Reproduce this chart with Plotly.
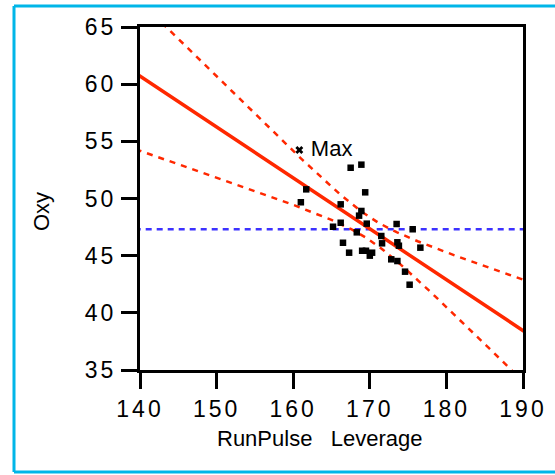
import numpy as np
import plotly.graph_objects as go

# Leverage data
run_pulse_lev = [167.5, 168.9, 161.7, 169.4, 161.0, 166.2, 168.9, 168.6, 165.2, 166.2,
                 169.6, 173.5, 175.6, 168.3, 166.5, 171.5, 171.6, 173.6, 173.8, 176.6,
                 167.3, 169.0, 169.5, 170.3, 170.0, 172.8, 173.6, 174.6, 175.2]
oxy = [52.69, 52.96, 50.8, 50.54, 49.67, 49.49, 48.91, 48.5, 47.53, 47.88,
       47.8, 47.77, 47.31, 47.04, 46.13, 46.72, 46.08, 46.17, 45.87, 45.7,
       45.26, 45.43, 45.43, 45.26, 45.0, 44.68, 44.53, 43.6, 42.46]
max_x = [160.8]
max_y = [54.24]
max_label = ["Max"]

# fit
y_mean = 47.3
fit_y_at_140 = 60.7
fit_slope = -0.445
x_center = 169.9
band_h0 = 1.0
band_k = 0.215

x_ticks = [140, 150, 160, 170, 180, 190]
y_ticks = [35, 40, 45, 50, 55, 60, 65]

RED = "rgb(255,40,0)"
BLUE = "rgb(60,50,255)"
CYAN = "rgb(0,182,232)"
FONT = "Liberation Sans, Arial, sans-serif"

xs = np.linspace(135, 195, 241)
fit = fit_y_at_140 + fit_slope * (xs - 140)
half = np.sqrt(band_h0 ** 2 + (band_k * (xs - x_center)) ** 2)

fig = go.Figure()
fig.add_trace(go.Scatter(x=[135, 195], y=[y_mean, y_mean], mode="lines",
                         line=dict(color=BLUE, width=2.5, dash="6px,5px"), hoverinfo="skip"))
fig.add_trace(go.Scatter(x=xs, y=fit + half, mode="lines",
                         line=dict(color=RED, width=2.5, dash="6px,6px"), hoverinfo="skip"))
fig.add_trace(go.Scatter(x=xs, y=fit - half, mode="lines",
                         line=dict(color=RED, width=2.5, dash="6px,6px"), hoverinfo="skip"))
fig.add_trace(go.Scatter(x=xs, y=fit, mode="lines",
                         line=dict(color=RED, width=3.5), hoverinfo="skip"))
fig.add_trace(go.Scatter(x=run_pulse_lev, y=oxy, mode="markers",
                         marker=dict(symbol="square", size=6.5, color="black", line=dict(width=0))))
fig.add_trace(go.Scatter(x=max_x, y=max_y, mode="markers+text", text=["&nbsp;" + t for t in max_label],
                         textposition="middle right",
                         textfont=dict(family=FONT, size=22, color="black"),
                         marker=dict(symbol="x", size=7, color="black", line=dict(width=0))))

L, R, T, B = 140, 523, 27, 370
W, H = 555, 475
pw, ph = R - L, B - T

def px_x(p):
    return (p - L) / pw

def px_y(p):
    return (B - p) / ph

fig.update_layout(
    width=W, height=H,
    margin=dict(l=L, r=W - R, t=T, b=H - B, pad=0),
    paper_bgcolor="white", plot_bgcolor="white",
    showlegend=False,
    font=dict(family=FONT, size=23, color="black"),
    xaxis=dict(range=[140, 190], tickvals=x_ticks, ticks="outside", ticklen=16, tickwidth=3,
               tickcolor="black", showline=True, linewidth=3, linecolor="black", mirror=True,
               showgrid=False, zeroline=False,
               tickfont=dict(family=FONT, size=23)),
    yaxis=dict(range=[35, 65], tickvals=y_ticks, ticks="outside", ticklen=16, tickwidth=3,
               tickcolor="black", showline=True, linewidth=3, linecolor="black", mirror=True,
               showgrid=False, zeroline=False,
               tickfont=dict(family=FONT, size=23)),
    annotations=[
        dict(text="RunPulse&nbsp;&nbsp;&nbsp;Leverage", xref="paper", yref="paper",
             x=px_x(319), y=px_y(439), xanchor="center", yanchor="middle", showarrow=False,
             font=dict(family=FONT, size=22)),
        dict(text="Oxy", xref="paper", yref="paper", textangle=-90,
             x=px_x(41), y=px_y(212), xanchor="center", yanchor="middle", showarrow=False,
             font=dict(family=FONT, size=22)),
    ],
    shapes=[
        dict(type="line", xref="paper", yref="paper", x0=px_x(14), x1=px_x(560),
             y0=px_y(6), y1=px_y(6), line=dict(color=CYAN, width=3)),
        dict(type="line", xref="paper", yref="paper", x0=px_x(14), x1=px_x(14),
             y0=px_y(6), y1=px_y(472), line=dict(color=CYAN, width=3)),
        dict(type="line", xref="paper", yref="paper", x0=px_x(14), x1=px_x(560),
             y0=px_y(472), y1=px_y(472), line=dict(color=CYAN, width=3)),
    ],
)

css = """
var s = document.createElement('style');
s.textContent = '.xtick text, .ytick text { letter-spacing: 3px; }';
document.head.appendChild(s);
"""
fig.write_html("out.html", post_script=css)
